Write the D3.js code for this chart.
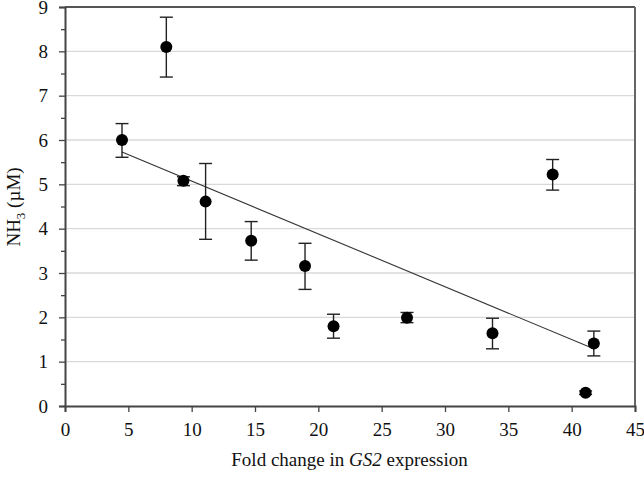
<!DOCTYPE html>
<html><head><meta charset="utf-8">
<script src="https://cdn.jsdelivr.net/npm/d3@7"></script>
<style>body{margin:0;background:#fff}</style>
</head><body>
<svg id="c" width="644" height="480"></svg>
<script>
const foldChange = [4.5, 8.0, 9.35, 11.1, 14.7, 18.95, 21.2, 27.0, 33.75, 38.5, 41.1, 41.75];
const nh3        = [6.0, 8.1, 5.08, 4.61, 3.73, 3.16, 1.80, 1.99, 1.64, 5.22, 0.30, 1.41];
const errLow     = [5.61, 7.42, 4.97, 3.76, 3.29, 2.63, 1.53, 1.88, 1.29, 4.87, 0.26, 1.13];
const errHigh    = [6.37, 8.77, 5.17, 5.47, 4.16, 3.67, 2.07, 2.11, 1.98, 5.56, 0.34, 1.69];
const trendX = [4.5, 41.75];
const trendY = [5.73, 1.29];
const xTicks = [0,5,10,15,20,25,30,35,40,45];
const yTicks = [0,1,2,3,4,5,6,7,8,9];
const yMinor = [0.5,1.5,2.5,3.5,4.5,5.5,6.5,7.5,8.5];

const L=65, R=635, T=7, B=406;
const svg = d3.select('#c');
const x = d3.scaleLinear().domain([0,45]).range([L,R]);
const y = d3.scaleLinear().domain([0,9]).range([B,T]);
const font = '"Liberation Serif","Times New Roman",serif';

// gridlines
svg.append('g').selectAll('line').data(yTicks.filter(d=>d>0&&d<9)).join('line')
  .attr('x1',L).attr('x2',R).attr('y1',d=>y(d)).attr('y2',d=>y(d))
  .attr('stroke','#d9d9d9').attr('stroke-width',1.3);

// frame top and right
svg.append('line').attr('x1',L).attr('x2',R).attr('y1',T).attr('y2',T).attr('stroke','#555').attr('stroke-width',2);
svg.append('line').attr('x1',R).attr('x2',R).attr('y1',T).attr('y2',B).attr('stroke','#666').attr('stroke-width',2);

// axes
svg.append('g').attr('transform',`translate(0,${B})`)
  .call(d3.axisBottom(x).tickValues(xTicks).tickSize(6).tickPadding(11).tickFormat(d3.format('d')));
svg.append('g').attr('transform',`translate(${L},0)`)
  .call(d3.axisLeft(y).tickValues(yTicks).tickSize(6).tickPadding(11).tickFormat(d3.format('d')));
svg.append('g').attr('transform',`translate(${L},0)`)
  .call(d3.axisLeft(y).tickValues(yMinor).tickSize(4).tickFormat(''))
  .call(g=>g.select('.domain').remove());
svg.selectAll('.domain').attr('stroke','#444').attr('stroke-width',2);
svg.selectAll('.tick line').attr('stroke','#444').attr('stroke-width',1.3);
svg.selectAll('.tick text').attr('font-family',font).attr('font-size',19).attr('fill','#111');

// trend line
svg.append('line')
  .attr('x1',x(trendX[0])).attr('y1',y(trendY[0]))
  .attr('x2',x(trendX[1])).attr('y2',y(trendY[1]))
  .attr('stroke','#333').attr('stroke-width',1.1);

// error bars
const idx = d3.range(foldChange.length);
const eb = svg.append('g').attr('stroke','#222').attr('stroke-width',1.4);
idx.forEach(i=>{
  const cx = x(foldChange[i]);
  eb.append('line').attr('x1',cx).attr('x2',cx).attr('y1',y(errLow[i])).attr('y2',y(errHigh[i]));
  [errLow[i],errHigh[i]].forEach(v=>{
    eb.append('line').attr('x1',cx-6.5).attr('x2',cx+6.5).attr('y1',y(v)).attr('y2',y(v));
  });
});

// points
svg.append('g').selectAll('circle').data(idx).join('circle')
  .attr('cx',i=>x(foldChange[i])).attr('cy',i=>y(nh3[i])).attr('r',6)
  .attr('fill','#000');

// axis titles
const xt = svg.append('text').attr('x',349.5).attr('y',466).attr('text-anchor','middle')
  .attr('font-family',font).attr('font-size',19).attr('fill','#111');
xt.append('tspan').text('Fold change in ');
xt.append('tspan').attr('font-style','italic').text('GS2');
xt.append('tspan').text(' expression');

const yt = svg.append('text').attr('transform','translate(20,207) rotate(-90)').attr('text-anchor','middle')
  .attr('font-family',font).attr('font-size',19).attr('fill','#111');
yt.append('tspan').text('NH');
yt.append('tspan').attr('font-size',13).attr('dy',5).text('3');
yt.append('tspan').attr('dy',-5).text(' (µM)');
</script>
</body></html>
